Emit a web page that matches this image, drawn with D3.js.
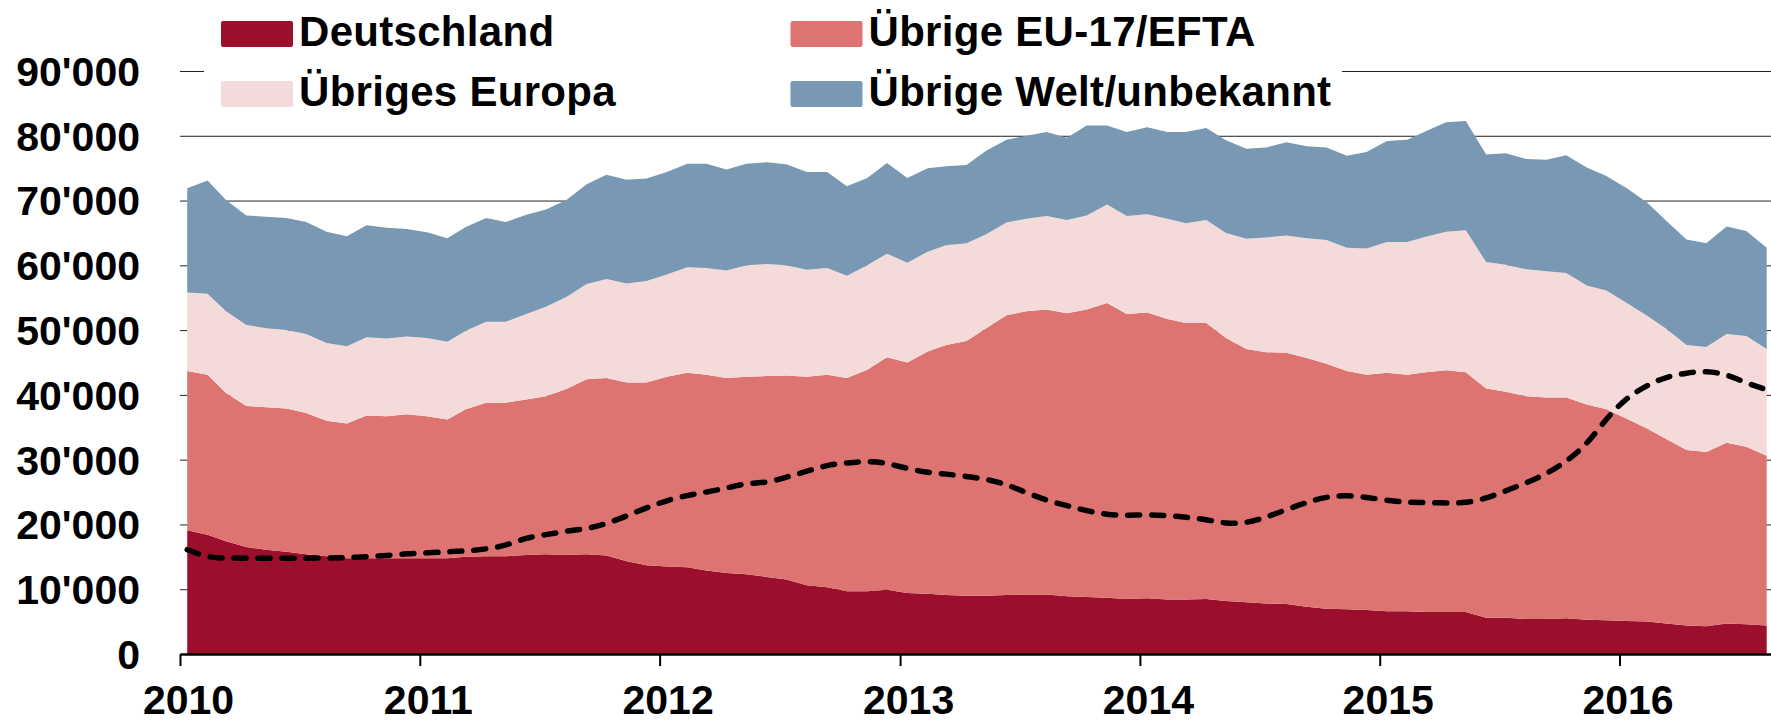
<!DOCTYPE html>
<html>
<head>
<meta charset="utf-8">
<script src="https://cdn.jsdelivr.net/npm/d3@7"></script>
<style>
  body { margin: 0; background: #fff; overflow: hidden; }
  svg text { font-family: "Liberation Sans", Arial, sans-serif; font-weight: bold; fill: #000; }
</style>
</head>
<body>
<div id="chart"></div>
<script>
// series, bottom to top
var seriesNames = ["Deutschland", "Übrige EU-17/EFTA", "Übriges Europa", "Übrige Welt/unbekannt"];
var colors = ["#9B0F2D", "#DE7471", "#F5DADA", "#7898B3"];

// monthly, Jan 2010 .. Aug 2016
var firstMonth = new Date(2010, 0, 1),
    lastMonth = new Date(2016, 7, 1);
var yearLabels = ["2010", "2011", "2012", "2013", "2014", "2015", "2016"];
var yTicks = [0, 10000, 20000, 30000, 40000, 50000, 60000, 70000, 80000, 90000];

var deutschland = [
    19100,18400,17400,16500,16100,15800,15400,15100,14800,14800,14800,14800,
    14800,14800,15000,15100,15100,15300,15400,15300,15400,15200,14300,13700,
    13500,13400,12900,12500,12300,11900,11500,10600,10300,9700,9700,9900,
    9400,9300,9100,9000,9000,9100,9200,9200,8900,8800,8700,8500,
    8600,8400,8400,8500,8200,8000,7800,7700,7300,7000,6900,6800,
    6600,6600,6500,6500,6500,5600,5600,5400,5400,5500,5300,5200,
    5100,5000,4700,4400,4300,4700,4600,4400
];
var uebrigeEU = [
    24600,24700,22900,21800,22000,22100,21800,20900,20800,22000,21900,22200,
    21900,21400,22800,23700,23700,24000,24400,25600,27000,27400,27600,28200,
    29300,30000,30200,30100,30500,31000,31500,32200,32800,32900,34200,35900,
    35600,37400,38600,39300,41300,43200,43700,44000,43700,44400,45500,44000,
    44100,43300,42700,42600,40600,39100,38800,38800,38400,37800,36800,36300,
    36800,36500,37000,37300,37000,35400,34900,34400,34200,34100,33200,32600,
    31200,29800,28500,27100,26900,27900,27400,26200
];
var uebrigesEuropa = [
    12100,12500,12600,12500,12200,12100,12200,12000,11900,12100,12000,12000,
    12100,12000,12100,12500,12500,13200,13800,14200,14700,15300,15300,15700,
    15800,16300,16500,16600,17200,17300,17000,16500,16500,15800,16100,16000,
    15400,15400,15400,15100,14500,14300,14300,14400,14400,14500,15200,15100,
    15200,15500,15400,15900,16200,17000,17700,18100,18500,19100,19000,19500,
    20200,20500,20900,21400,21900,19500,19600,19600,19500,19200,18400,18300,
    17900,17400,17000,16200,16200,16800,17100,16500
];
var uebrigeWelt = [
    16100,17500,17200,16900,17200,17300,17300,17200,17000,17300,17100,16600,
    16300,16000,16000,16000,15400,15300,15000,15000,15400,16100,16000,15800,
    15800,16000,16100,15600,15700,15700,15600,15100,14800,13800,13500,14000,
    13100,12900,12200,12100,12900,12800,12800,13000,12700,13900,12200,13000,
    13400,13400,14100,14200,14300,13900,13900,14400,14200,14300,14200,14900,
    15600,15800,16300,16900,16900,16600,17200,17000,17200,18200,18200,17700,
    17700,17500,16700,16300,16000,16600,16200,15600
];
// dashed line
var trend = [
    16100,14900,14800,14800,14800,14800,14800,14800,14900,15000,15200,15500,
    15600,15800,15900,16200,16700,18000,18400,19000,19300,20100,21300,22600,
    23700,24500,25000,25600,26400,26400,27300,28200,29200,29500,29800,29500,
    28600,28000,27800,27400,27000,26200,24900,23700,22900,22100,21500,21400,
    21500,21400,21100,20800,20100,20200,21100,22300,23400,24300,24500,24200,
    23700,23400,23400,23300,23300,24000,25200,26400,27800,29700,32300,36400,
    39600,41500,42800,43400,43700,43200,41800,40800
];

var width = 1771, height = 723;
var yearWidth = 240, x0 = 180;

var months = d3.timeMonth.range(firstMonth, d3.timeMonth.offset(lastMonth, 1));
var keys = ["de", "eu", "eur", "welt"];
var rows = months.map(function(m, i) {
    return {date: d3.timeDay.offset(m, 11), de: deutschland[i], eu: uebrigeEU[i],
            eur: uebrigesEuropa[i], welt: uebrigeWelt[i], trend: trend[i]};
});

var x = d3.scaleTime()
    .domain([new Date(2010, 0, 1), new Date(2017, 0, 1)])
    .range([x0, x0 + 7 * yearWidth]);

var y = d3.scaleLinear()
    .domain([0, 90000])
    .range([654, 71]);

var svg = d3.select("#chart").append("svg")
    .attr("width", width)
    .attr("height", height);

// gridlines + y labels
var fmt = d3.formatLocale({decimal: ".", thousands: "'", grouping: [3], currency: ["", ""]}).format(",");
var yAxis = svg.append("g")
    .attr("transform", "translate(" + x0 + ",0)")
    .call(d3.axisLeft(y)
        .tickValues(yTicks)
        .tickFormat(fmt)
        .tickSize(-(width - x0))
        .tickPadding(40));
yAxis.select(".domain").remove();
yAxis.selectAll("line").attr("stroke", "#222").attr("stroke-width", 1);
yAxis.selectAll("text").style("font-size", "41px").attr("dy", "0.35em");

// stacked areas
var stack = d3.stack().keys(keys);
var series = stack(rows);

var area = d3.area()
    .x(function(d) { return x(d.data.date); })
    .y0(function(d) { return y(d[0]); })
    .y1(function(d) { return y(d[1]); });

svg.append("g")
    .selectAll("path")
    .data(series)
    .join("path")
    .attr("fill", function(d, i) { return colors[i]; })
    .attr("d", area);

// dashed line
var line = d3.line()
    .x(function(d) { return x(d.date); })
    .y(function(d) { return y(d.trend); })
    .curve(d3.curveBasis);

svg.append("path")
    .datum(rows)
    .attr("fill", "none")
    .attr("stroke", "#000")
    .attr("stroke-width", 5.5)
    .attr("stroke-linecap", "round")
    .attr("stroke-dasharray", "12,12")
    .attr("d", line);

// x axis
var years = yearLabels.map(function(s) { return new Date(+s, 0, 1); });
var xAxis = svg.append("g")
    .attr("transform", "translate(0,654)")
    .call(d3.axisBottom(x)
        .tickValues(years)
        .tickFormat(function(d, i) { return yearLabels[i]; })
        .tickSize(12)
        .tickSizeOuter(0));
xAxis.select(".domain").attr("stroke", "#000").attr("stroke-width", 2.5);
xAxis.selectAll("line").attr("stroke", "#000").attr("stroke-width", 2);
xAxis.selectAll("text")
    .style("font-size", "41px")
    .attr("x", 8)
    .attr("y", 60)
    .attr("dy", 0);

// legend
var legend = svg.append("g");
legend.append("rect")
    .attr("x", 204).attr("y", 4)
    .attr("width", 1138).attr("height", 114)
    .attr("fill", "#fff");

var legendPos = [[221, 21], [790.5, 21], [221, 81], [790.5, 81]];
seriesNames.forEach(function(name, i) {
    var g = legend.append("g")
        .attr("transform", "translate(" + legendPos[i][0] + "," + legendPos[i][1] + ")");
    g.append("rect")
        .attr("width", 72).attr("height", 26)
        .attr("rx", 2)
        .attr("fill", colors[i]);
    g.append("text")
        .attr("x", 78)
        .attr("y", 25)
        .style("font-size", "42px")
        .style("letter-spacing", "0.3px")
        .text(name);
});
</script>
</body>
</html>
